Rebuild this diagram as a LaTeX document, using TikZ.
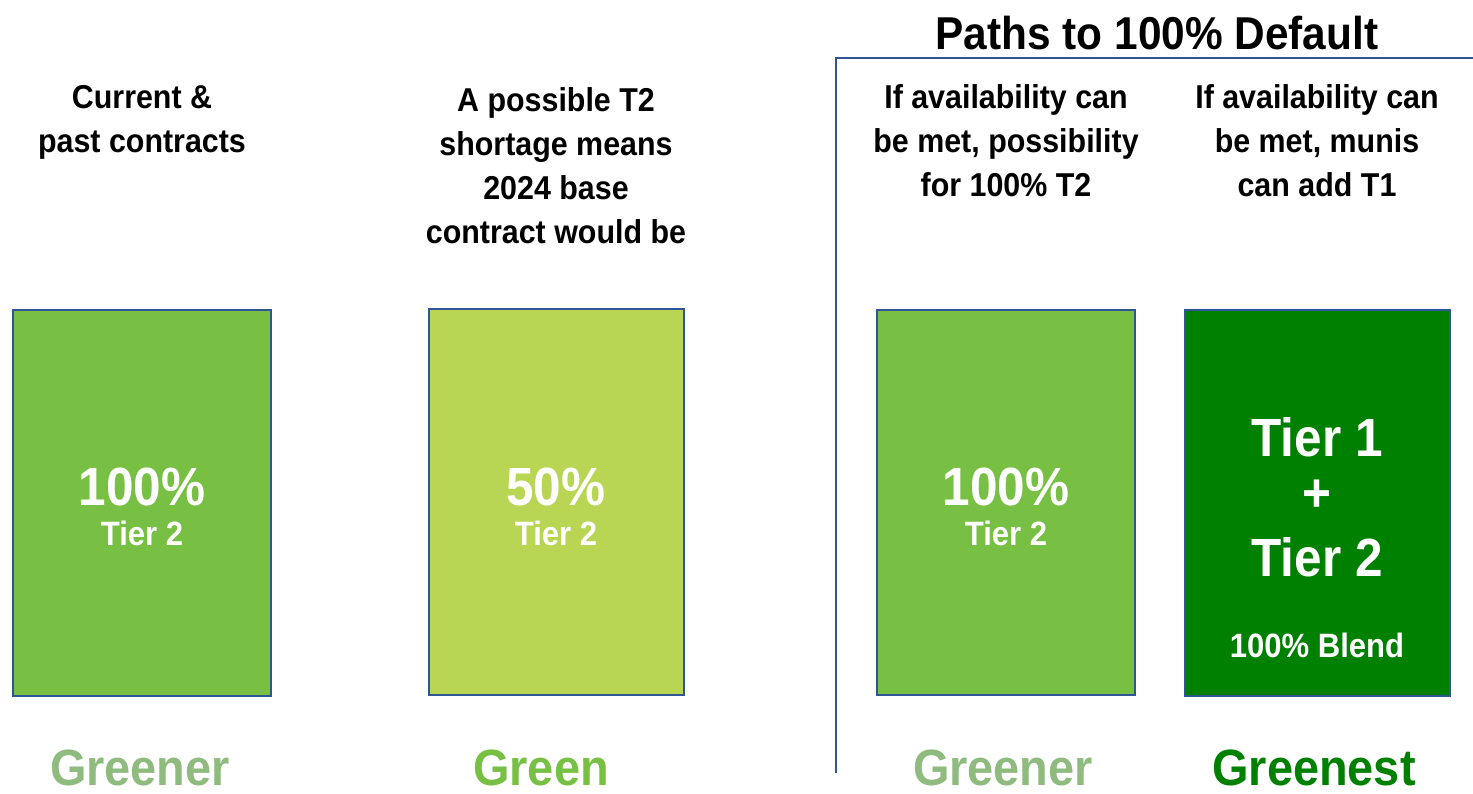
\documentclass[tikz,border=0pt]{standalone}
\usepackage{fontspec}
\setmainfont{Liberation Sans}[FakeStretch=0.92]

\definecolor{lineblue}{RGB}{47,85,151}
\definecolor{midgreen}{RGB}{119,192,67}
\definecolor{limegreen}{RGB}{184,214,84}
\definecolor{deepgreen}{RGB}{0,128,0}
\definecolor{palegreen}{RGB}{143,187,127}

\tikzset{
  bar/.style={draw=lineblue, line width=0.7pt, inner sep=0pt,
    minimum width=2.58cm, minimum height=3.86cm},
  head/.style={align=center, font=\bfseries\fontsize{9.4}{12.5}\selectfont},
  big/.style={text=white, inner sep=0pt, font=\bfseries\fontsize{15.3}{18}\selectfont},
  small/.style={text=white, inner sep=0pt, font=\bfseries\fontsize{9.6}{11}\selectfont},
  shade/.style={inner sep=0pt, font=\bfseries\fontsize{14.5}{17}\selectfont},
}

\begin{document}
\begin{tikzpicture}[x=0.01cm,y=-0.01cm]
    \useasboundingbox (0,0) rectangle (1473,793);

    % Cabecera de las rutas
    \coordinate (corner) at (836,58);
    \coordinate (rightend) at (1473,58);
    \coordinate (bottomend) at (836,773);
    \draw[lineblue,line width=0.7pt] (rightend) -- (corner) -- (bottomend);
    \node[font=\bfseries\fontsize{13.1}{15}\selectfont] (paths) at (1157,33) {Paths to 100\% Default};

    % Textos de cada columna
    \node[head] (head1) at (142,122) {Current \&\\past contracts};
    \node[head] (head2) at (556,166) {A possible T2\\shortage means\\2024 base\\contract would be};
    \node[head] (head3) at (1006,141) {If availability can\\be met, possibility\\for 100\% T2};
    \node[head] (head4) at (1317,141) {If availability can\\be met, munis\\can add T1};

    % Barras
    \node[bar,fill=midgreen] (box1) at (142,503) {};
    \node[bar,fill=limegreen,minimum width=2.55cm] (box2) at (556.5,502) {};
    \node[bar,fill=midgreen,minimum height=3.85cm] (box3) at (1006,502.5) {};
    \node[bar,fill=deepgreen,minimum width=2.65cm] (box4) at (1317.5,503) {};

    \node[big] (pct1) at (142,487) {100\%};
    \node[small] (tier1) at (142,533) {Tier 2};
    \node[big] (pct2) at (556,487) {50\%};
    \node[small] (tier2) at (556,533) {Tier 2};
    \node[big] (pct3) at (1006,487) {100\%};
    \node[small] (tier3) at (1006,533) {Tier 2};

    \node[big] (tierone) at (1317,437) {Tier 1};
    \node[big] (plus) at (1317,496) {+};
    \node[big] (tiertwo) at (1317,557) {Tier 2};
    \node[small] (blend) at (1317,645) {100\% Blend};

    % Etiquetas de abajo
    \node[shade,text=palegreen] (lab1) at (140,768) {Greener};
    \node[shade,text=midgreen] (lab2) at (541,768) {Green};
    \node[shade,text=palegreen] (lab3) at (1003,768) {Greener};
    \node[shade,text=deepgreen] (lab4) at (1314,768) {Greenest};
\end{tikzpicture}
\end{document}
